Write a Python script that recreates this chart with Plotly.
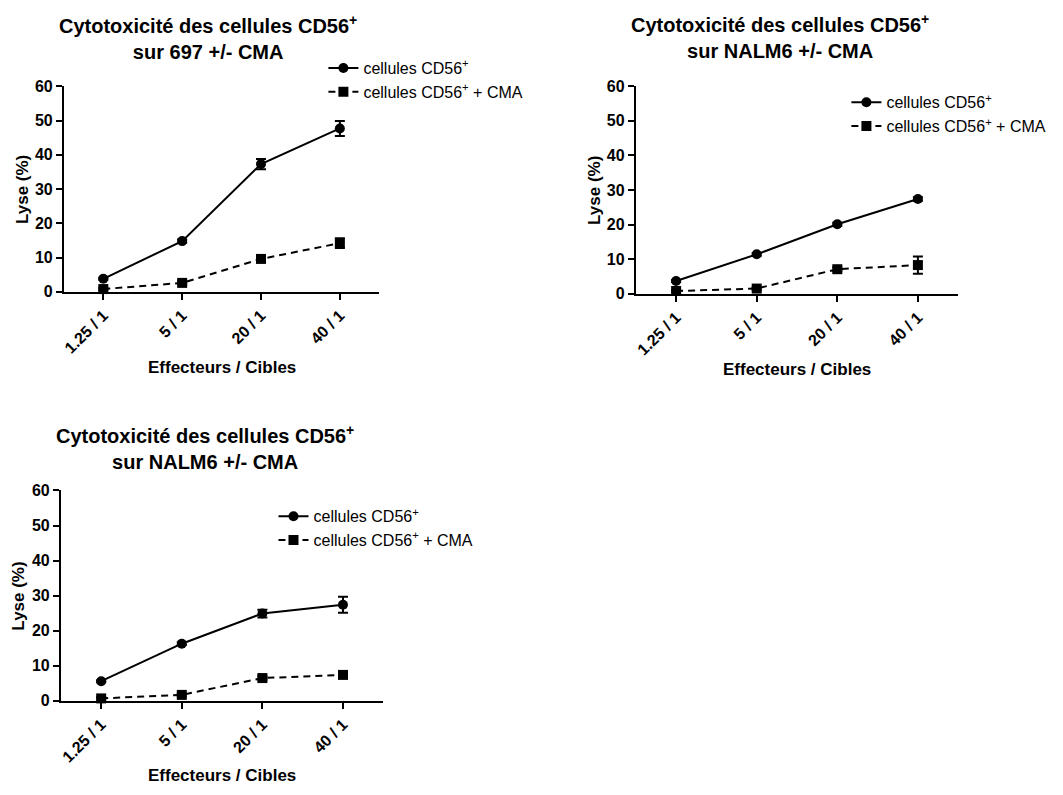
import plotly.graph_objects as go

# Effector : target ratios
ratios = ["1.25 / 1", "5 / 1", "20 / 1", "40 / 1"]
y_ticks = [0, 10, 20, 30, 40, 50, 60]

# Panel A: 697 targets
lyse_697 = [3.8, 14.8, 37.3, 47.7]
err_697 = [0.3, 0.5, 1.5, 2.2]
lyse_697_cma = [0.8, 2.6, 9.6, 14.2]
err_697_cma = [0.3, 0.4, 0.5, 1.4]

# Panel B: NALM6 targets
lyse_nalm6_b = [3.7, 11.4, 20.1, 27.4]
err_nalm6_b = [0.3, 0.4, 0.4, 0.5]
lyse_nalm6_b_cma = [0.8, 1.5, 7.1, 8.3]
err_nalm6_b_cma = [0.3, 0.4, 0.6, 2.5]

# Panel C: NALM6 targets (second experiment)
lyse_nalm6_c = [5.6, 16.3, 24.9, 27.4]
err_nalm6_c = [0.3, 0.4, 1.1, 2.3]
lyse_nalm6_c_cma = [0.7, 1.7, 6.5, 7.4]
err_nalm6_c_cma = [0.3, 0.4, 0.5, 0.6]

W, H = 1063, 795
FONT = "Liberation Sans, Arial, sans-serif"

# pixel boxes of the three plotting areas: (left, right), (top, bottom)
panels = [
    dict(title="Cytotoxicité des cellules CD56<sup>+</sup><br>sur 697 +/- CMA",
         s1=lyse_697, e1=err_697, s2=lyse_697_cma, e2=err_697_cma,
         px=(62, 378), py=(80, 290), leg_xy=(322, 44), title_y=30, xt_y=367),
    dict(title="Cytotoxicité des cellules CD56<sup>+</sup><br>sur NALM6 +/- CMA",
         s1=lyse_nalm6_b, e1=err_nalm6_b, s2=lyse_nalm6_b_cma, e2=err_nalm6_b_cma,
         px=(635, 958), py=(80, 292), leg_xy=(846, 79), title_y=29, xt_y=369),
    dict(title="Cytotoxicité des cellules CD56<sup>+</sup><br>sur NALM6 +/- CMA",
         s1=lyse_nalm6_c, e1=err_nalm6_c, s2=lyse_nalm6_c_cma, e2=err_nalm6_c_cma,
         px=(59, 382), py=(493, 708), leg_xy=(272, 502), title_y=449, xt_y=784),
]

fig = go.Figure()
layout = dict(
    width=W, height=H,
    margin=dict(l=0, r=0, t=0, b=0),
    paper_bgcolor="white", plot_bgcolor="white",
    font=dict(family=FONT, color="black"),
    annotations=[],
)

for i, p in enumerate(panels, start=1):
    xa = "x" if i == 1 else f"x{i}"
    ya = "y" if i == 1 else f"y{i}"
    leg = "legend" if i == 1 else f"legend{i}"
    fig.add_trace(go.Scatter(
        x=ratios, y=p["s1"], xaxis=xa, yaxis=ya, legend=leg,
        name="cellules CD56<sup>+</sup>", mode="lines+markers",
        line=dict(color="black", width=2),
        marker=dict(symbol="circle", size=10, color="black"),
        error_y=dict(type="data", array=p["e1"], color="black", thickness=2, width=5),
        cliponaxis=False,
    ))
    fig.add_trace(go.Scatter(
        x=ratios, y=p["s2"], xaxis=xa, yaxis=ya, legend=leg,
        name="cellules CD56<sup>+</sup> + CMA", mode="lines+markers",
        line=dict(color="black", width=2, dash="7px,5px"),
        marker=dict(symbol="square", size=10, color="black"),
        error_y=dict(type="data", array=p["e2"], color="black", thickness=2, width=5),
        cliponaxis=False,
    ))

    x0, x1 = p["px"]
    y0, y1 = p["py"]
    xk = "xaxis" if i == 1 else f"xaxis{i}"
    yk = "yaxis" if i == 1 else f"yaxis{i}"
    layout[xk] = dict(
        domain=[x0 / W, x1 / W], anchor=ya, type="category",
        range=[-0.5, 3.5], showgrid=False, zeroline=False,
        showline=True, linecolor="black", linewidth=2,
        ticks="outside", ticklen=6, tickwidth=2, tickcolor="black",
        tickangle=-45, tickfont=dict(size=16, family=FONT, weight="bold"),
    )
    layout[yk] = dict(
        domain=[1 - y1 / H, 1 - y0 / H], anchor=xa,
        range=[0, 60], tickvals=y_ticks, showgrid=False, zeroline=False,
        showline=True, linecolor="black", linewidth=2,
        ticks="outside", ticklen=6, tickwidth=2, tickcolor="black",
        tickfont=dict(size=16, family=FONT, weight="bold"),
    )
    layout[leg] = dict(
        x=p["leg_xy"][0] / W, y=1 - p["leg_xy"][1] / H,
        xanchor="left", yanchor="top",
        bgcolor="rgba(0,0,0,0)", font=dict(size=16, family=FONT),
        tracegroupgap=0, itemwidth=30,
    )
    cx = (x0 + x1) / 2
    # panel title
    layout["annotations"].append(dict(
        text=f"<b>{p['title']}</b>", xref="paper", yref="paper",
        x=(x0 + 144) / W, y=1 - p["title_y"] / H,
        xanchor="center", yanchor="middle", showarrow=False,
        font=dict(size=20, family=FONT, color="black"), align="center",
    ))
    # x axis title
    layout["annotations"].append(dict(
        text="<b>Effecteurs / Cibles</b>", xref="paper", yref="paper",
        x=cx / W, y=1 - p["xt_y"] / H,
        xanchor="center", yanchor="middle", showarrow=False,
        font=dict(size=17, family=FONT, color="black"),
    ))
    # y axis title
    layout["annotations"].append(dict(
        text="<b>Lyse (%)</b>", xref="paper", yref="paper",
        x=(x0 - 42) / W, y=1 - ((y0 + y1) / 2) / H,
        xanchor="center", yanchor="middle", showarrow=False, textangle=-90,
        font=dict(size=17, family=FONT, color="black"),
    ))

fig.update_layout(**layout)
fig.write_html("out.html")
